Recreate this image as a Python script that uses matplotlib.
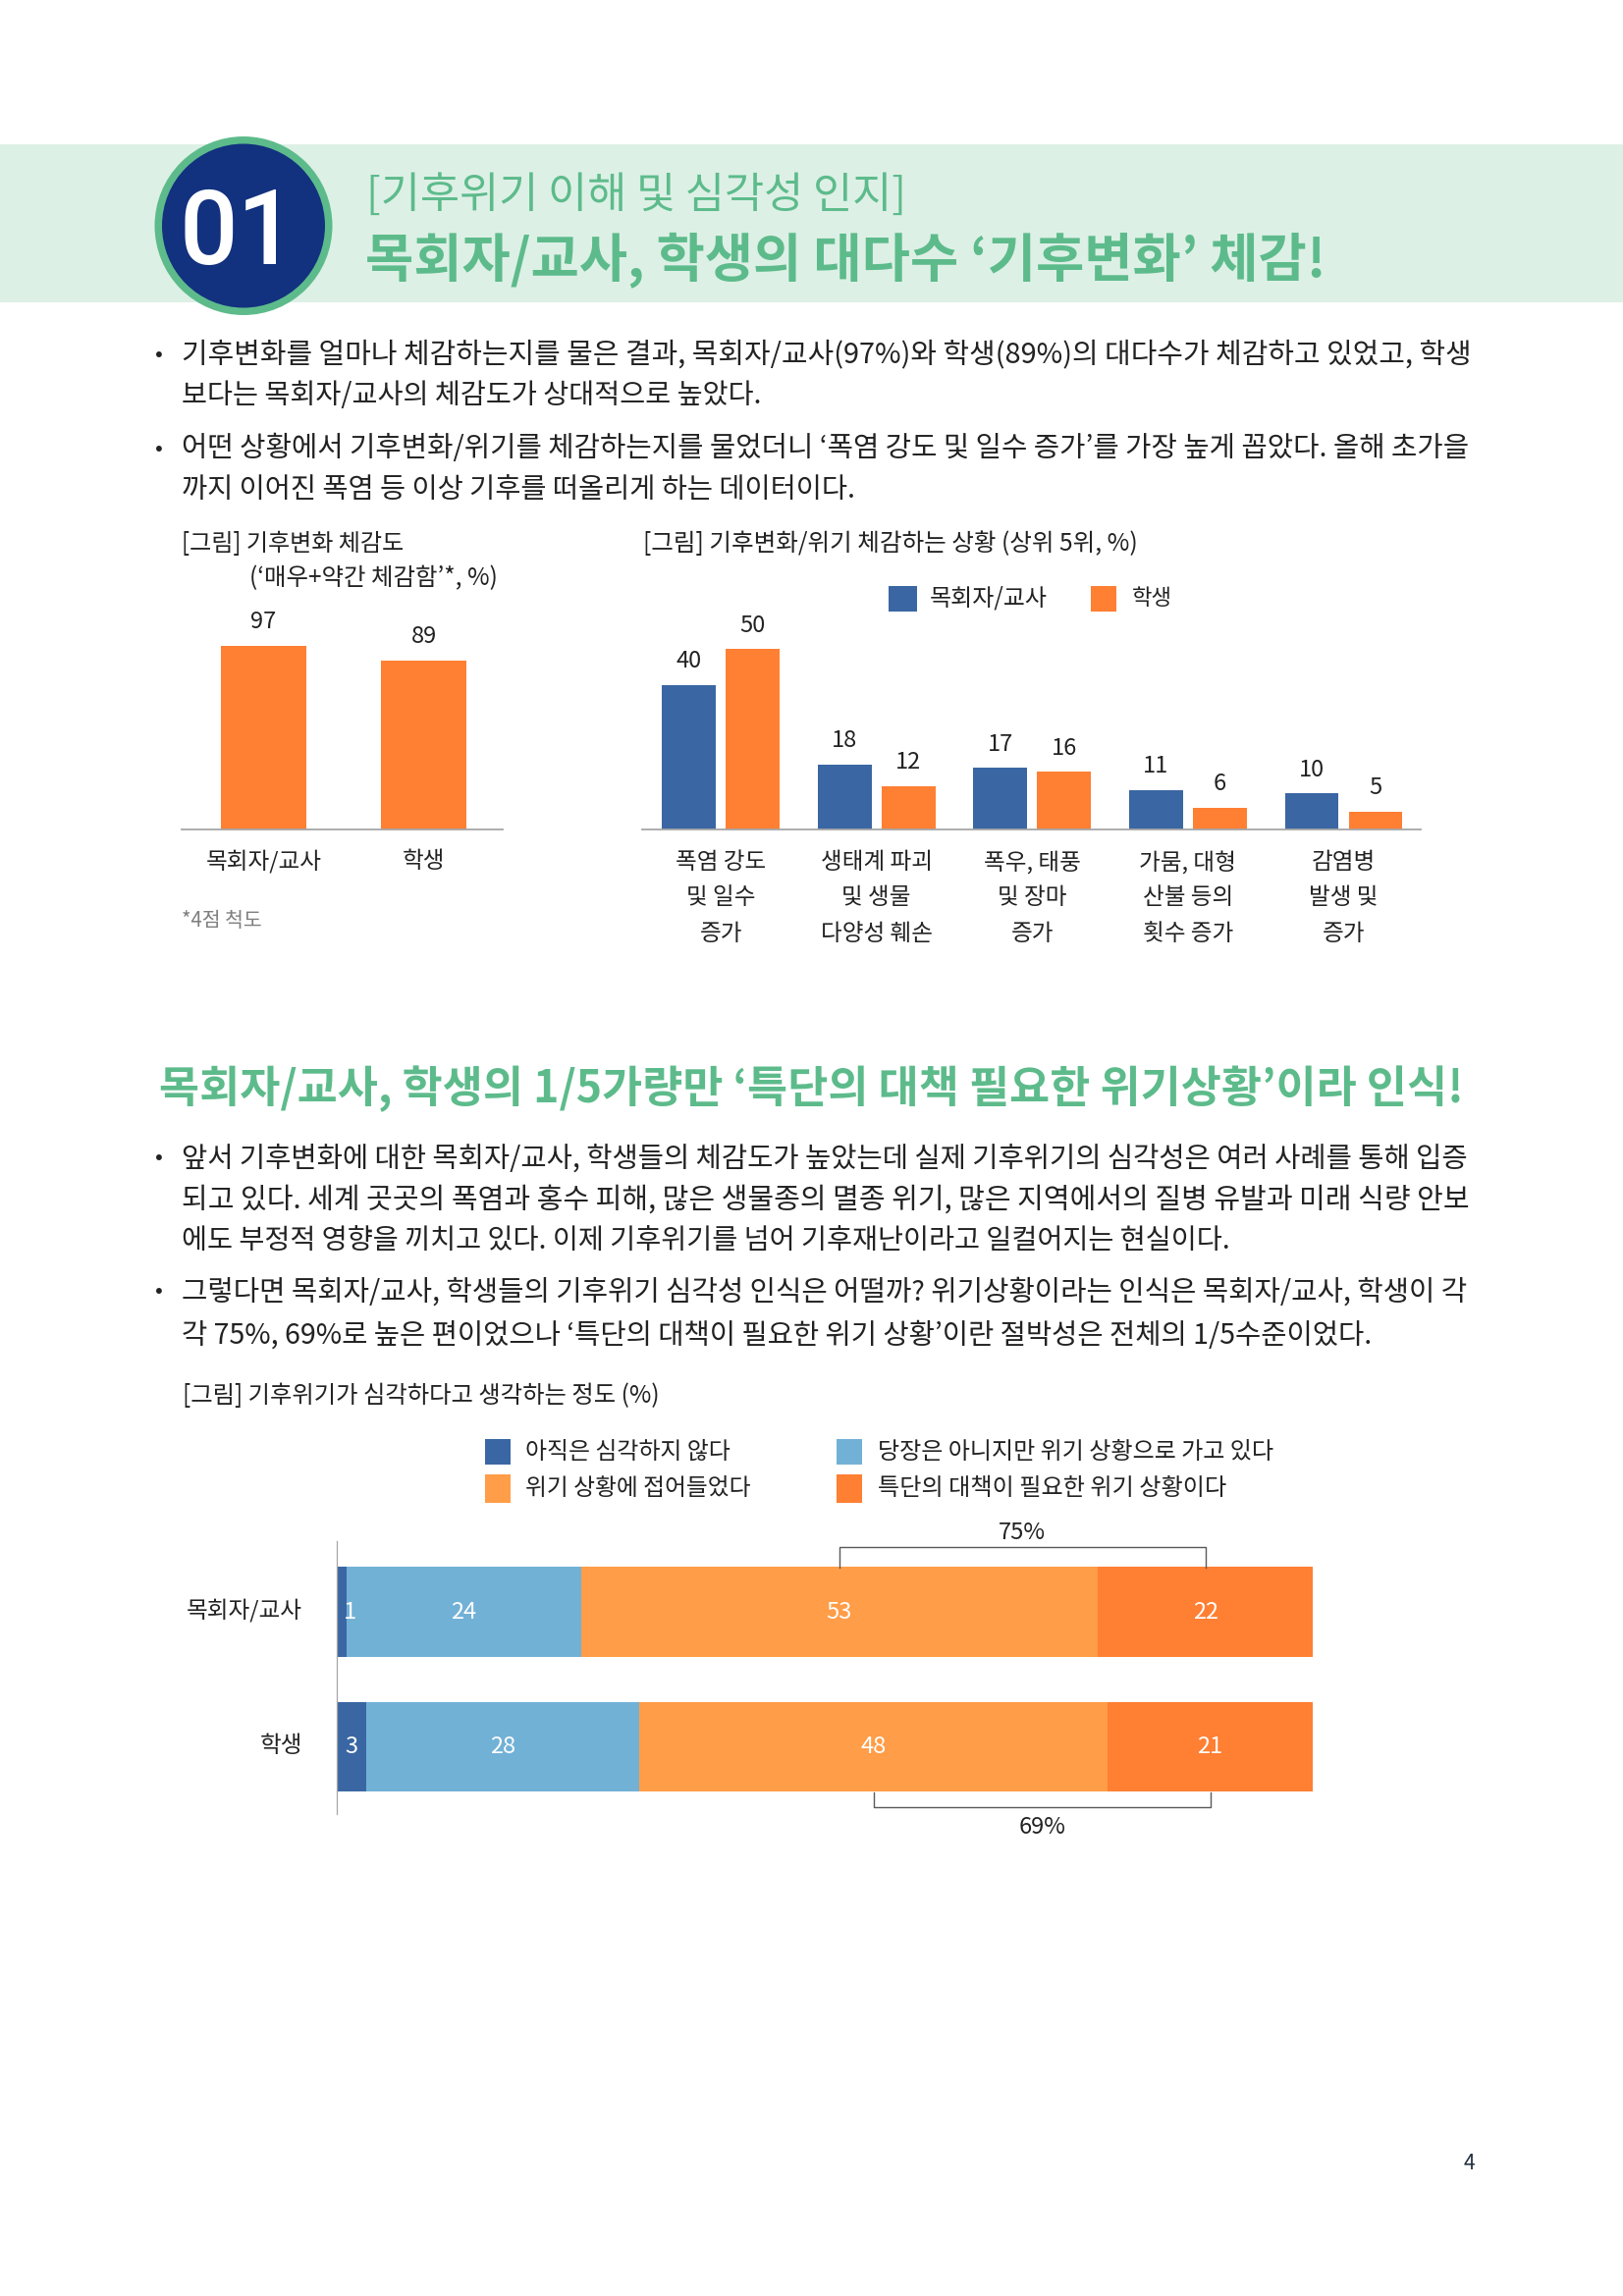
import matplotlib
matplotlib.use("Agg")
import matplotlib.pyplot as plt
from matplotlib.patches import Ellipse, Rectangle
from matplotlib.transforms import ScaledTranslation
import numpy as np

plt.rcParams['font.family'] = ['Noto Sans CJK KR', 'DejaVu Sans']

W, H = 1653, 2339
DPI = 100

# ---------- data ----------
awareness_labels = ['목회자/교사', '학생']
awareness_values = [97, 89]

situation_series = ['목회자/교사', '학생']
situation_labels = [['폭염 강도', '및 일수', '증가'],
                    ['생태계 파괴', '및 생물', '다양성 훼손'],
                    ['폭우, 태풍', '및 장마', '증가'],
                    ['가뭄, 대형', '산불 등의', '횟수 증가'],
                    ['감염병', '발생 및', '증가']]
situation_teacher = [40, 18, 17, 11, 10]
situation_student = [50, 12, 16, 6, 5]

severity_groups = ['목회자/교사', '학생']
severity_series = ['아직은 심각하지 않다', '당장은 아니지만 위기 상황으로 가고 있다',
                   '위기 상황에 접어들었다', '특단의 대책이 필요한 위기 상황이다']
severity_teacher = [1, 24, 53, 22]
severity_student = [3, 28, 48, 21]
severity_totals = ['75%', '69%']

section_kicker = '[기후위기 이해 및 심각성 인지]'
section_title = '목회자/교사, 학생의 대다수 ‘기후변화’ 체감!'
section_number = '01'
body_a = ['기후변화를 얼마나 체감하는지를 물은 결과, 목회자/교사(97%)와 학생(89%)의 대다수가 체감하고 있었고, 학생',
          '보다는 목회자/교사의 체감도가 상대적으로 높았다.',
          '어떤 상황에서 기후변화/위기를 체감하는지를 물었더니 ‘폭염 강도 및 일수 증가’를 가장 높게 꼽았다. 올해 초가을',
          '까지 이어진 폭염 등 이상 기후를 떠올리게 하는 데이터이다.']
subtitle = '목회자/교사, 학생의 1/5가량만 ‘특단의 대책 필요한 위기상황’이라 인식!'
body_b = ['앞서 기후변화에 대한 목회자/교사, 학생들의 체감도가 높았는데 실제 기후위기의 심각성은 여러 사례를 통해 입증',
          '되고 있다. 세계 곳곳의 폭염과 홍수 피해, 많은 생물종의 멸종 위기, 많은 지역에서의 질병 유발과 미래 식량 안보',
          '에도 부정적 영향을 끼치고 있다. 이제 기후위기를 넘어 기후재난이라고 일컬어지는 현실이다.',
          '그렇다면 목회자/교사, 학생들의 기후위기 심각성 인식은 어떨까? 위기상황이라는 인식은 목회자/교사, 학생이 각',
          '각 75%, 69%로 높은 편이었으나 ‘특단의 대책이 필요한 위기 상황’이란 절박성은 전체의 1/5수준이었다.']
fig_title_a1 = '[그림] 기후변화 체감도'
fig_title_a2 = '(‘매우+약간 체감함’*, %)'
fig_title_b = '[그림] 기후변화/위기 체감하는 상황 (상위 5위, %)'
fig_title_c = '[그림] 기후위기가 심각하다고 생각하는 정도 (%)'
footnote = '*4점 척도'
page_number = '4'

# ---------- style ----------
BLUE = '#3A67A3'
ORANGE = '#FF7F33'
LBLUE = '#72B1D6'
LORANGE = '#FF9D48'
GREEN = '#5DBB8B'
BAND = '#DDF0E6'
NAVY = '#12317F'
INK = '#222222'
AXIS = '#A6A6A6'
SIZE = 17.0      # pt for chart text

fig = plt.figure(figsize=(W / DPI, H / DPI), dpi=DPI, facecolor='white')


def axes_px(x0, y0, x1, y1, **kw):
    return fig.add_axes([x0 / W, 1 - y1 / H, (x1 - x0) / W, (y1 - y0) / H], **kw)


page = axes_px(0, 0, W, H)
page.set_xlim(0, W)
page.set_ylim(H, 0)
page.axis('off')
page.set_zorder(0)
renderer = fig.canvas.get_renderer()


def put(x, yc, s, x_end=None, size=SIZE, color=INK, weight='normal', ha='left', zorder=5, family=None):
    """Place text with its vertical middle at yc; optionally fit its width to x..x_end."""
    t = page.text(x, yc, s, fontsize=size, color=color, fontweight=weight, ha=ha,
                  va='baseline', zorder=zorder)
    if family:
        t.set_fontfamily(family)
    if x_end is not None:
        w = t.get_window_extent(renderer).width
        size = size * (x_end - x) / w
        t.set_fontsize(size)
    t.set_y(yc + 0.36 * size * DPI / 72)
    return t


# section header
page.add_patch(Rectangle((0, 147), W, 161, color=BAND, lw=0, zorder=1))
page.add_patch(Ellipse((248, 230), 181, 182, color=GREEN, lw=0, zorder=2))
page.add_patch(Ellipse((248, 230), 166, 167, color=NAVY, lw=0, zorder=3))
put(183, 231, section_number, x_end=302, size=80, color='white', zorder=6, family='Roboto', weight='medium')
put(373, 196, section_kicker, x_end=924, size=36, color=GREEN)
put(372, 262, section_title, x_end=1352, size=44, color=GREEN, weight='bold')

# body copy
for s, yc, xe in zip(body_a, [359, 401, 455, 497], [1497, 776, 1497, 872]):
    put(185, yc, s, x_end=xe, size=SIZE)
for yc in [359, 455, 1178, 1314]:
    put(162, yc, '•', ha='center', size=SIZE)
put(162, 1107, subtitle, x_end=1490, size=40, color=GREEN, weight='bold')
for s, yc, xe in zip(body_b, [1178, 1220, 1262, 1314, 1358], [1497, 1497, 1256, 1497, 1401]):
    put(185, yc, s, x_end=xe, size=SIZE)

# chart titles
put(185, 552, fig_title_a1, x_end=412)
put(254, 587, fig_title_a2, x_end=507)
put(655, 552, fig_title_b, x_end=1159)
put(186, 1420, fig_title_c, x_end=671)
put(185, 937, footnote, x_end=267, color='#7F7F7F')
put(1496, 2202, page_number, ha='center', size=15, color='#1F2D3D')


def clean(ax):
    ax.patch.set_alpha(0)
    ax.set_zorder(2)
    for sp in ax.spines.values():
        sp.set_visible(False)


# ---------- chart A ----------
a = axes_px(185, 652, 512, 845)
clean(a)
a.spines['bottom'].set_visible(True)
a.spines['bottom'].set_color(AXIS)
a.spines['bottom'].set_linewidth(1.3)
xa = np.arange(len(awareness_values))
a.bar(xa, awareness_values, width=0.532, color=ORANGE, linewidth=0)
a.set_xlim(-0.51, 1.49)
a.set_ylim(0, 100)
a.set_yticks([])
a.set_xticks(xa, awareness_labels, fontsize=SIZE, color=INK)
a.tick_params(axis='x', length=0, pad=15)
for x, v in zip(xa, awareness_values):
    a.annotate(str(v), (x, v), xytext=(0, 9.5), textcoords='offset points', ha='center',
               va='bottom', fontsize=SIZE, color=INK)

# ---------- chart B ----------
b = axes_px(654, 652, 1447, 845)
clean(b)
b.spines['bottom'].set_visible(True)
b.spines['bottom'].set_color(AXIS)
b.spines['bottom'].set_linewidth(1.3)
xb = np.arange(len(situation_teacher))
off = 0.205
wb = 0.345
b.bar(xb - off, situation_teacher, width=wb, color=BLUE, linewidth=0)
b.bar(xb + off, situation_student, width=wb, color=ORANGE, linewidth=0)
b.set_xlim(-0.505, 4.495)
b.set_ylim(0, 193 / 3.68)
b.set_yticks([])
b.set_xticks([])
for x, v1, v2, lines in zip(xb, situation_teacher, situation_student, situation_labels):
    b.annotate(str(v1), (x - off, v1), xytext=(0, 9), textcoords='offset points',
               ha='center', va='bottom', fontsize=SIZE, color=INK)
    b.annotate(str(v2), (x + off, v2), xytext=(0, 9), textcoords='offset points',
               ha='center', va='bottom', fontsize=SIZE, color=INK)
    for ln, dy in zip(lines, [24, 50, 76.5]):
        b.annotate(ln, (x, 0), xytext=(0, -dy), textcoords='offset points', ha='center',
                   va='center', fontsize=SIZE, color=INK, annotation_clip=False)
# legend B
page.add_patch(Rectangle((905, 597), 29, 26, color=BLUE, lw=0))
put(947, 608, situation_series[0], x_end=1067)
page.add_patch(Rectangle((1111, 597), 26, 26, color=ORANGE, lw=0))
put(1153, 608, situation_series[1], x_end=1194)

# ---------- chart C ----------
c = axes_px(343, 1570, 1337, 1848)
clean(c)
c.spines['left'].set_visible(True)
c.spines['left'].set_color(AXIS)
c.spines['left'].set_linewidth(0.9)
rows = np.array([severity_teacher, severity_student])
cols = [BLUE, LBLUE, LORANGE, ORANGE]
yc = np.arange(len(severity_groups))
left = np.zeros(2)
mids = []
for j in range(rows.shape[1]):
    c.barh(yc, rows[:, j], left=left, height=0.665, color=cols[j], linewidth=0)
    mids.append(left + rows[:, j] / 2)
    left = left + rows[:, j]
mids = np.array(mids)
c.set_xlim(0, 100)
c.set_ylim(1.498, -0.5236)
c.set_xticks([])
c.set_yticks(yc, severity_groups, fontsize=SIZE, color=INK)
c.tick_params(axis='y', length=0, pad=25)
for lbl in c.get_yticklabels():
    lbl.set_transform(lbl.get_transform() + ScaledTranslation(0, 2.5 / 72, fig.dpi_scale_trans))
for i in yc:
    for j in range(rows.shape[1]):
        xpos = mids[j, i] if rows[i, j] >= 2 else 1.4
        c.text(xpos, i, str(rows[i, j]), ha='center', va='center', fontsize=SIZE, color='white')

# brackets spanning the two "crisis" segments (y in axes fractions of chart C)
btrans = c.get_xaxis_transform()
for i, (y_bar, y_line, y_lab) in enumerate([(0.9029, 0.9784, 1.03), (0.0791, 0.0252, -0.05)]):
    x0, x1 = mids[2, i], mids[3, i]
    c.plot([x0, x0, x1, x1], [y_bar, y_line, y_line, y_bar], transform=btrans,
           color='#595959', lw=1.0, clip_on=False)
    c.text((x0 + x1) / 2, y_lab, severity_totals[i], transform=btrans, ha='center', va='center',
           fontsize=SIZE, color=INK, clip_on=False)

# legend C
for (x, y, h, col, s, xe, yt, xt) in [
        (494, 1466, 26, BLUE, severity_series[0], 744, 1477, 535),
        (852, 1466, 26, LBLUE, severity_series[1], 1298, 1477, 894),
        (494, 1502, 29, LORANGE, severity_series[2], 765, 1514, 535),
        (852, 1502, 29, ORANGE, severity_series[3], 1249, 1514, 894)]:
    page.add_patch(Rectangle((x, y), 26, h, color=col, lw=0))
    put(xt, yt, s, x_end=xe)

fig.savefig('out.png', dpi=DPI, facecolor='white')
